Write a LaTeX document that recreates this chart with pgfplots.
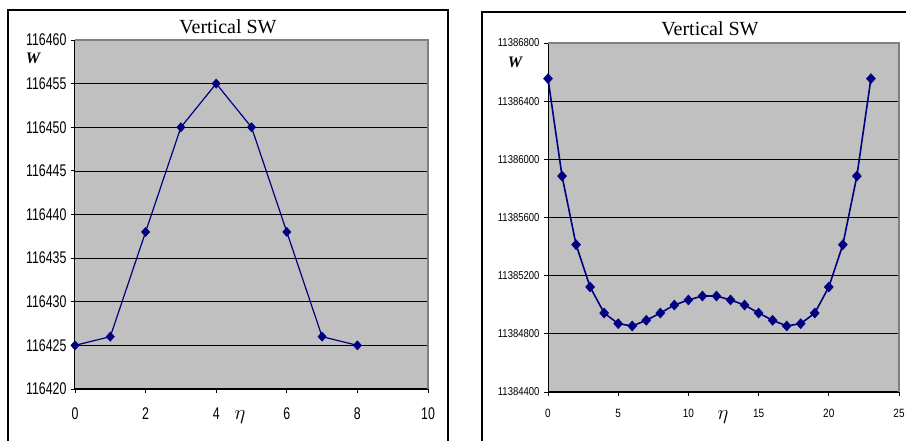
\documentclass[border=0pt]{standalone}
\usepackage{pgfplots}
\pgfplotsset{compat=1.18}
\usepackage{fontspec}
\setmainfont{Liberation Serif}
\newfontfamily\arial{Liberation Sans}
\definecolor{plotgray}{RGB}{192,192,192}
\definecolor{bordergray}{RGB}{128,128,128}
\definecolor{navyblue}{RGB}{0,0,128}
\newcommand\stl[1]{\scalebox{0.95}[1.3]{#1}}
\newcommand\str[1]{\scalebox{1}[1.2]{#1}}
\pgfplotsset{excel/.style={
  scale only axis, anchor=south west, clip=false,
  axis background/.style={fill=plotgray},
  axis x line=bottom, axis y line=left,
  axis line style={-, black, line width=1pt},
  ymajorgrids, grid style={black, line width=0.7pt},
  tick align=outside, major tick length=4pt,
  tick style={black, line width=0.8pt},
  /pgf/number format/assume math mode=true,
}, 
navyline/.style={color=navyblue, line width=1.2pt, mark=diamond*, mark size=4.6pt,
     mark options={fill=navyblue, draw=navyblue, solid, line width=0.5pt, xscale=1.2}},
}
\begin{document}
\begin{tikzpicture}[x=1pt,y=1pt]
\useasboundingbox (0,0) rectangle (906,441);
\fill[white] (0,0) rectangle (906,441);
% frames
\draw[black, line width=2pt] (8,0) -- (8,431) -- (448,431) -- (448,0);
\draw[black, line width=2pt] (482,0) -- (482,429) -- (907,429);
% ---------------- left chart
\begin{axis}[excel, at={(75pt,52pt)}, width=353pt, height=349pt,
  y coord trafo/.code={\edef\pgfmathresult{\fpeval{#1-116420}}},
  y coord inv trafo/.code={\edef\pgfmathresult{\fpeval{#1+116420}}},
  xmin=0, xmax=10, ymin=116420, ymax=116460,
  xtick={0,2,4,6,8,10},
  ytick={116420,116425,116430,116435,116440,116445,116450,116455,116460},
  yticklabels={\stl{116420},\stl{116425},\stl{116430},\stl{116435},\stl{116440},\stl{116445},\stl{116450},\stl{116455},\stl{116460}},
  yticklabel style={font=\arial\fontsize{13}{13}\selectfont, xshift=-1pt},
  xticklabel={\stl{\pgfmathprintnumber{\tick}}},
  xticklabel style={font=\arial\fontsize{13}{13}\selectfont, yshift=-11pt},
]
\addplot[navyline] table {
x y
0 116425
1 116426
2 116438
3 116450
4 116455
5 116450
6 116438
7 116426
8 116425
};
\draw[bordergray, line width=1.5pt] (rel axis cs:0,1) -- (rel axis cs:1,1) -- (rel axis cs:1,0);
\end{axis}
% ---------------- right chart
\begin{axis}[excel, at={(548pt,49pt)}, width=351pt, height=349pt,
  y coord trafo/.code={\edef\pgfmathresult{\fpeval{#1-11384400}}},
  y coord inv trafo/.code={\edef\pgfmathresult{\fpeval{#1+11384400}}},
  xmin=0, xmax=25, ymin=11384400, ymax=11386800,
  xtick={0,5,10,15,20,25},
  ytick={11384400,11384800,11385200,11385600,11386000,11386400,11386800},
  yticklabels={\str{11384400},\str{11384800},\str{11385200},\str{11385600},\str{11386000},\str{11386400},\str{11386800}},
  yticklabel style={font=\arial\fontsize{9.5}{9.5}\selectfont, xshift=-1pt},
  xticklabel={\str{\pgfmathprintnumber{\tick}}},
  xticklabel style={font=\arial\fontsize{10}{10}\selectfont, yshift=-10pt},
]
\addplot[navyline, line width=1.6pt, mark size=5pt] table {
x y
0 11386555
1 11385885
2 11385413
3 11385122
4 11384943
5 11384870
6 11384854
7 11384893
8 11384943
9 11384998
10 11385033
11 11385060
12 11385060
13 11385033
14 11384998
15 11384943
16 11384893
17 11384854
18 11384870
19 11384943
20 11385122
21 11385413
22 11385885
23 11386555
};
\draw[bordergray, line width=1.5pt] (rel axis cs:0,1) -- (rel axis cs:1,1) -- (rel axis cs:1,0);
\end{axis}
% titles and labels
\node[font=\fontsize{20}{20}\selectfont] at (228,414) {Vertical SW};
\node[font=\fontsize{20}{20}\selectfont] at (710,412) {Vertical SW};
\node[font=\bfseries\itshape\fontsize{16}{16}\selectfont] at (33,383) {W};
\node[font=\bfseries\itshape\fontsize{16}{16}\selectfont] at (515,379) {W};
\node[font=\fontsize{20}{20}\selectfont] at (240,24) {$\eta$};
\node[font=\fontsize{20}{20}\selectfont] at (723,24) {$\eta$};
\end{tikzpicture}
\end{document}
